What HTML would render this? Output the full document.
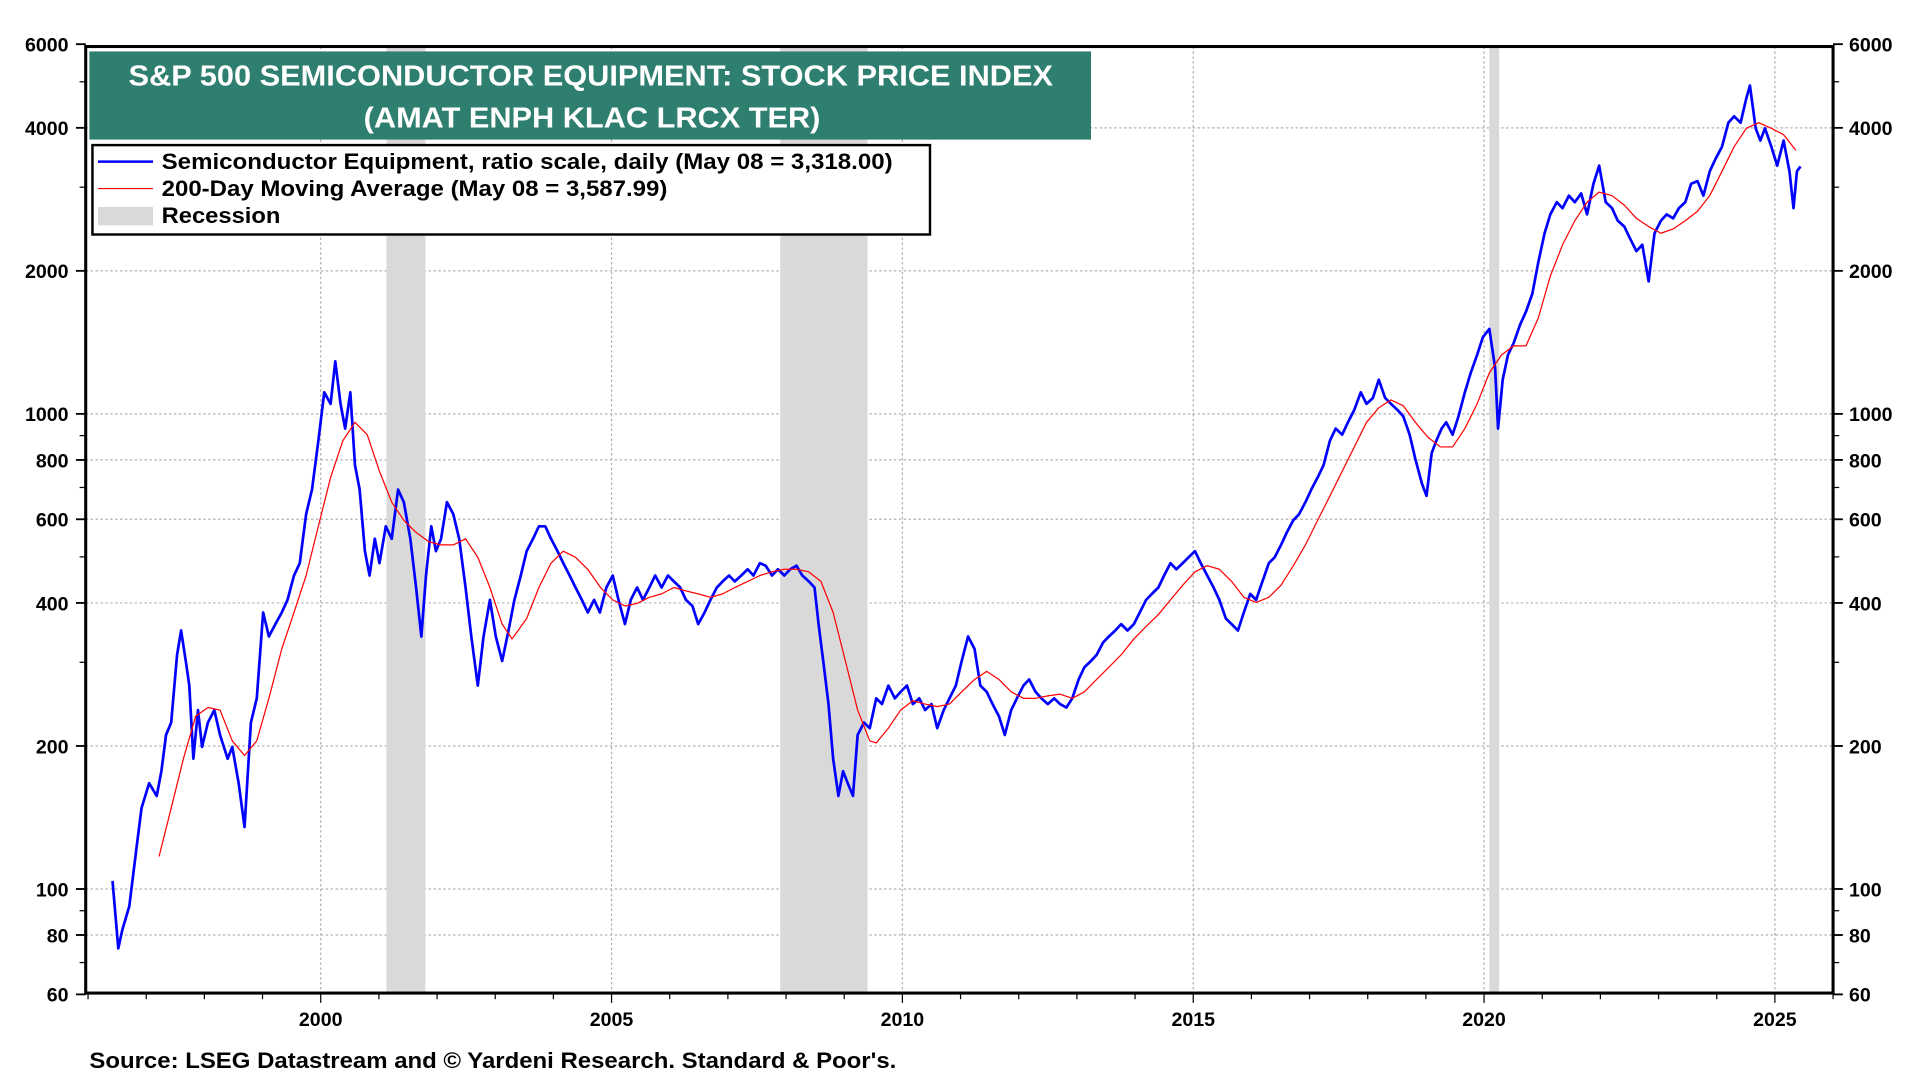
<!DOCTYPE html>
<html><head><meta charset="utf-8"><style>
html,body{margin:0;padding:0;background:#fff;width:1920px;height:1080px;overflow:hidden}
svg text{font-family:"Liberation Sans",Arial,sans-serif;font-weight:bold}
</style></head><body>
<svg id="chart" width="1920" height="1080" viewBox="0 0 1568 882" preserveAspectRatio="none" xmlns="http://www.w3.org/2000/svg">
<g id="grid"></g>
<g id="rec"></g>
<g id="axes"></g>
<g id="series"></g>
<rect x="73" y="42" width="818" height="72" fill="#2f7f70"/>
<text x="105" y="70" textLength="755" lengthAdjust="spacingAndGlyphs" font-size="23.5" fill="#fff">S&amp;P 500 SEMICONDUCTOR EQUIPMENT: STOCK PRICE INDEX</text>
<text x="297" y="104" textLength="373" lengthAdjust="spacingAndGlyphs" font-size="23.5" fill="#fff">(AMAT ENPH KLAC LRCX TER)</text>
<g>
<rect x="75.5" y="118.5" width="684" height="73" fill="#fff" stroke="#000" stroke-width="2"/>
<line x1="80" y1="132" x2="125" y2="132" stroke="#0000ff" stroke-width="2"/>
<text x="132" y="138" font-size="18" textLength="597" lengthAdjust="spacingAndGlyphs">Semiconductor Equipment, ratio scale, daily (May 08 = 3,318.00)</text>
<line x1="80" y1="154" x2="125" y2="154" stroke="#ff0000" stroke-width="1"/>
<text x="132" y="160" font-size="18" textLength="413" lengthAdjust="spacingAndGlyphs">200-Day Moving Average (May 08 = 3,587.99)</text>
<rect x="80" y="169" width="45" height="15" fill="#d9d9d9"/>
<text x="132" y="182" font-size="18" textLength="97" lengthAdjust="spacingAndGlyphs">Recession</text>
</g>
<text x="73" y="872" font-size="18" textLength="659" lengthAdjust="spacingAndGlyphs">Source: LSEG Datastream and © Yardeni Research. Standard &amp; Poor's.</text>
</svg>
<script>
const blueDates=[1996.42,1996.52,1996.59,1996.71,1996.84,1996.92,1997.05,1997.18,1997.26,1997.34,1997.43,1997.53,1997.60,1997.68,1997.74,1997.81,1997.89,1997.96,1998.06,1998.17,1998.27,1998.40,1998.48,1998.59,1998.69,1998.80,1998.90,1999.01,1999.11,1999.22,1999.33,1999.43,1999.54,1999.64,1999.75,1999.85,1999.96,2000.06,2000.17,2000.25,2000.34,2000.42,2000.51,2000.59,2000.67,2000.76,2000.84,2000.93,2001.01,2001.12,2001.22,2001.33,2001.43,2001.54,2001.64,2001.73,2001.81,2001.90,2001.98,2002.07,2002.17,2002.28,2002.38,2002.49,2002.59,2002.70,2002.80,2002.91,2003.01,2003.12,2003.23,2003.33,2003.44,2003.54,2003.65,2003.75,2003.86,2003.96,2004.07,2004.17,2004.28,2004.38,2004.49,2004.59,2004.70,2004.80,2004.91,2005.02,2005.12,2005.23,2005.33,2005.44,2005.54,2005.65,2005.75,2005.86,2005.97,2006.07,2006.18,2006.28,2006.39,2006.49,2006.60,2006.70,2006.81,2006.91,2007.02,2007.12,2007.23,2007.34,2007.44,2007.55,2007.65,2007.76,2007.86,2007.97,2008.07,2008.18,2008.28,2008.39,2008.49,2008.56,2008.64,2008.73,2008.81,2008.90,2008.98,2009.06,2009.15,2009.23,2009.34,2009.44,2009.55,2009.65,2009.76,2009.87,2009.97,2010.08,2010.18,2010.29,2010.39,2010.50,2010.60,2010.71,2010.81,2010.92,2011.02,2011.13,2011.24,2011.34,2011.45,2011.55,2011.66,2011.76,2011.87,2011.97,2012.08,2012.18,2012.29,2012.39,2012.50,2012.61,2012.71,2012.82,2012.92,2013.03,2013.13,2013.24,2013.34,2013.45,2013.55,2013.66,2013.76,2013.87,2013.98,2014.08,2014.19,2014.29,2014.40,2014.50,2014.61,2014.71,2014.82,2014.92,2015.03,2015.13,2015.24,2015.35,2015.45,2015.56,2015.66,2015.77,2015.87,2015.98,2016.08,2016.19,2016.30,2016.40,2016.51,2016.61,2016.72,2016.82,2016.93,2017.03,2017.14,2017.24,2017.35,2017.45,2017.56,2017.66,2017.77,2017.88,2017.98,2018.09,2018.19,2018.30,2018.40,2018.51,2018.61,2018.72,2018.82,2018.93,2019.01,2019.10,2019.18,2019.27,2019.35,2019.46,2019.56,2019.67,2019.77,2019.88,2019.98,2020.09,2020.19,2020.24,2020.32,2020.41,2020.51,2020.62,2020.72,2020.83,2020.93,2021.04,2021.14,2021.25,2021.35,2021.46,2021.56,2021.67,2021.77,2021.88,2021.98,2022.09,2022.20,2022.30,2022.41,2022.51,2022.62,2022.72,2022.83,2022.93,2023.04,2023.14,2023.25,2023.35,2023.46,2023.56,2023.67,2023.77,2023.88,2023.98,2024.09,2024.20,2024.30,2024.41,2024.51,2024.57,2024.67,2024.75,2024.83,2024.94,2025.04,2025.15,2025.25,2025.32,2025.38,2025.44];
const blueValues=[104,75,82,92,124,148,167,157,177,211,224,311,350,302,268,188,238,199,224,238,211,188,199,167,135,224,252,382,340,361,382,406,457,485,615,693,878,1110,1050,1290,1050,931,1110,780,693,514,457,546,485,580,546,693,652,546,431,340,457,580,514,546,652,615,546,431,340,268,340,406,340,302,350,406,457,514,546,580,580,546,514,485,457,431,406,382,406,382,431,457,406,361,406,431,406,431,457,431,457,444,431,406,394,361,382,406,431,444,457,444,457,471,457,485,479,457,471,457,471,479,457,444,431,361,302,245,188,157,177,167,157,211,224,218,252,245,268,252,260,268,245,252,238,245,218,238,252,268,302,340,320,268,260,245,231,211,238,252,268,276,260,252,245,252,245,241,252,276,293,302,311,330,340,350,361,350,361,382,406,418,431,457,485,471,485,499,514,485,457,431,406,371,361,350,382,418,406,444,485,499,530,563,597,615,652,693,735,780,878,931,904,960,1020,1110,1050,1080,1180,1080,1050,1020,988,904,803,714,672,827,878,931,960,904,988,1110,1220,1330,1450,1510,1250,931,1180,1330,1410,1540,1640,1790,2080,2400,2630,2790,2710,2880,2790,2910,2630,3050,3330,2790,2710,2550,2480,2340,2200,2270,1900,2400,2550,2630,2580,2710,2790,3050,3090,2880,3240,3440,3650,4100,4230,4100,4620,4910,3990,3760,3990,3650,3330,3760,3240,2710,3240,3318];
const maDates=[1997.22,1997.43,1997.64,1997.85,1998.06,1998.27,1998.48,1998.69,1998.90,1999.11,1999.33,1999.54,1999.75,1999.96,2000.17,2000.38,2000.59,2000.80,2001.01,2001.22,2001.43,2001.64,2001.86,2002.07,2002.28,2002.49,2002.70,2002.91,2003.12,2003.29,2003.54,2003.75,2003.96,2004.17,2004.38,2004.59,2004.81,2005.02,2005.23,2005.44,2005.65,2005.86,2006.07,2006.28,2006.49,2006.70,2006.91,2007.12,2007.34,2007.55,2007.76,2007.97,2008.18,2008.39,2008.60,2008.81,2009.02,2009.23,2009.44,2009.55,2009.76,2009.97,2010.18,2010.39,2010.60,2010.81,2011.02,2011.24,2011.45,2011.66,2011.87,2012.08,2012.29,2012.50,2012.71,2012.92,2013.13,2013.34,2013.55,2013.76,2013.98,2014.19,2014.40,2014.61,2014.82,2015.03,2015.24,2015.45,2015.66,2015.87,2016.08,2016.30,2016.51,2016.72,2016.93,2017.14,2017.35,2017.56,2017.77,2017.98,2018.19,2018.40,2018.61,2018.82,2019.03,2019.25,2019.46,2019.67,2019.88,2020.09,2020.30,2020.51,2020.72,2020.93,2021.14,2021.35,2021.56,2021.77,2021.98,2022.20,2022.41,2022.62,2022.83,2023.04,2023.25,2023.46,2023.67,2023.88,2024.09,2024.30,2024.51,2024.72,2024.94,2025.15,2025.36];
const maValues=[117,148,188,231,241,238,205,191,205,252,320,382,457,580,735,878,960,904,757,652,597,563,538,530,530,546,499,431,361,336,371,431,485,514,499,471,431,406,394,399,411,418,431,424,418,411,418,431,444,457,465,471,471,465,444,382,302,238,205,203,218,238,249,245,242,245,260,276,287,276,260,252,252,255,257,252,260,276,293,311,336,357,378,406,436,465,479,471,444,411,401,411,436,479,530,597,672,757,852,960,1030,1070,1040,960,894,852,852,931,1050,1220,1330,1390,1390,1590,1950,2270,2550,2790,2930,2880,2750,2580,2480,2400,2450,2550,2670,2880,3240,3650,3990,4100,3990,3870,3588];
const recessionStarts=[2001.13,2007.90,2020.09];
const recessionEnds=[2001.80,2009.40,2020.26];
const yTicks=[60,80,100,200,400,600,800,1000,2000,4000,6000];
const yGrid=[80,100,200,400,600,800,1000,2000,4000];
const xLabels=[2000,2005,2010,2015,2020,2025];

const NS='http://www.w3.org/2000/svg';
const L=70,R=1497,T=38,B=811;
const X0=1995.96,X1=2026.0;
function xs(t){return L+(t-X0)/(X1-X0)*(R-L);}
function ys(v){return 338-(Math.log10(v)-3)*388;}
function mk(tag,attrs,parent){const e=document.createElementNS(NS,tag);for(const k in attrs)e.setAttribute(k,attrs[k]);parent.appendChild(e);return e;}
const grid=document.getElementById('grid'),rec=document.getElementById('rec'),axes=document.getElementById('axes'),series=document.getElementById('series');

yGrid.forEach(v=>{const l=mk('line',{x1:L,x2:R,y1:ys(v),y2:ys(v),stroke:'#b0b0b0','stroke-width':1,'stroke-dasharray':'2,2'},grid);

});
xLabels.forEach(yr=>{const l=mk('line',{x1:xs(yr),x2:xs(yr),y1:T,y2:B,stroke:'#b0b0b0','stroke-width':1,'stroke-dasharray':'2,2'},grid);

});

recessionStarts.forEach((s,i)=>{const r=mk('rect',{x:xs(s),y:T,width:xs(recessionEnds[i])-xs(s),height:B-T,fill:'#d9d9d9'},rec);

});

const fr=mk('rect',{x:L,y:T,width:R-L,height:B-T,fill:'none',stroke:'#000','stroke-width':2.5},axes);



const minor=[60,70,80,90,100,200,300,400,500,600,700,800,900,1000,2000,3000,4000,5000,6000];
minor.forEach(v=>{mk('line',{x1:L-5,x2:L,y1:ys(v),y2:ys(v),stroke:'#000','stroke-width':1},axes);mk('line',{x1:R,x2:R+5,y1:ys(v),y2:ys(v),stroke:'#000','stroke-width':1},axes);});
yTicks.forEach(v=>{
mk('line',{x1:L-8,x2:L,y1:ys(v),y2:ys(v),stroke:'#000','stroke-width':1.5},axes);
mk('line',{x1:R,x2:R+8,y1:ys(v),y2:ys(v),stroke:'#000','stroke-width':1.5},axes);
const t1=mk('text',{x:56,y:ys(v)+6,'text-anchor':'end','font-size':16},axes);t1.textContent=v;


const t2=mk('text',{x:1510,y:ys(v)+6,'font-size':16},axes);t2.textContent=v;


});
for(let yr=1996;yr<=2026;yr++){const maj=yr%5===0;mk('line',{x1:xs(yr),x2:xs(yr),y1:B,y2:B+(maj?8:5),stroke:'#000','stroke-width':1},axes);}
xLabels.forEach(yr=>{const t=mk('text',{x:xs(yr),y:838,'text-anchor':'middle','font-size':16},axes);t.textContent=yr;

});

const bp=blueDates.map((d,i)=>(i?'L':'M')+xs(d).toFixed(1)+','+ys(blueValues[i]).toFixed(1)).join('');
const bl=mk('path',{d:bp,fill:'none',stroke:'#0000ff','stroke-width':2.2,'stroke-linejoin':'round'},series);


const mp=maDates.map((d,i)=>(i?'L':'M')+xs(d).toFixed(1)+','+ys(maValues[i]).toFixed(1)).join('');
const ml=mk('path',{d:mp,fill:'none',stroke:'#ff0000','stroke-width':1,'stroke-linejoin':'round'},series);


</script>
</body></html>
